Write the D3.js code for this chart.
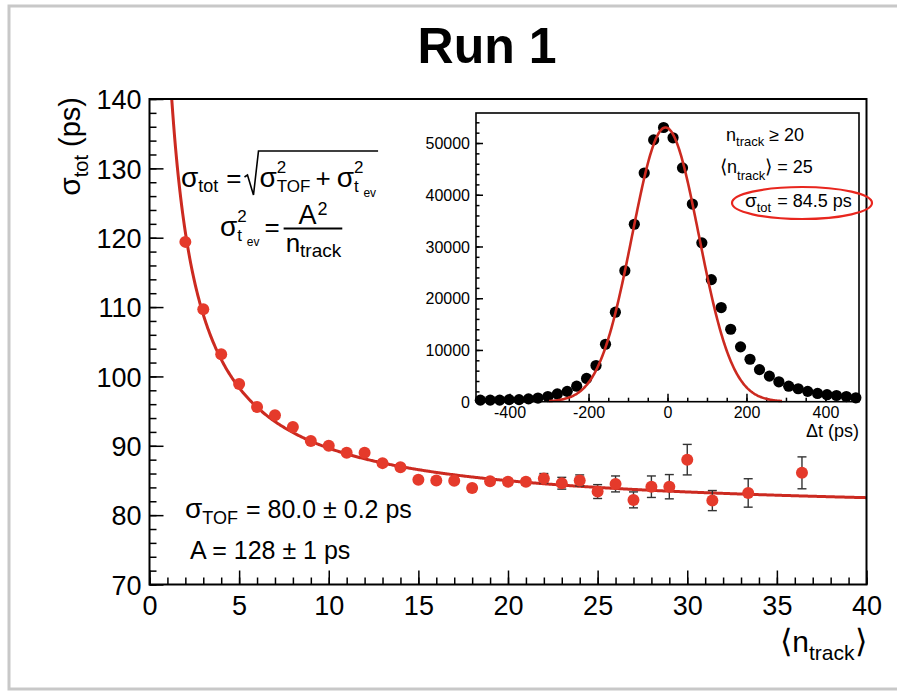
<!DOCTYPE html>
<html><head><meta charset="utf-8">
<script src="https://cdn.jsdelivr.net/npm/d3@7"></script>
<style>
html,body{margin:0;padding:0;background:#fff;}
svg{display:block;font-family:"Liberation Sans",Arial,Helvetica,sans-serif;}
text{fill:#000;white-space:pre;}
</style></head><body>
<script>
// ---- main panel: total time resolution vs mean track multiplicity ----
const nTrack = [2,3,4,5,6,7,8,9,10,11,12,13,14,15,16,17,18,19,20,21,22,23,24,25,26,27,28,29,30,31.4,33.4,36.4];
const sigmaTot = [119.4,109.7,103.2,98.9,95.6,94.4,92.7,90.7,90.0,89.0,89.0,87.5,86.9,85.1,85.0,84.95,83.9,84.9,84.8,84.8,85.3,84.6,85.0,83.4,84.5,82.2,84.1,84.1,88.0,82.1,83.2,86.1];
const sigmaErr = [0.2,0.2,0.2,0.2,0.2,0.2,0.2,0.25,0.25,0.3,0.3,0.3,0.3,0.35,0.35,0.4,0.4,0.4,0.45,0.45,0.7,0.85,0.8,1.0,1.15,1.15,1.55,1.75,2.2,1.45,2.05,2.3];
const fitSigmaTOF = 80.0;   // ps
const fitA = 128;           // ps
const xTicks = [0,5,10,15,20,25,30,35,40];
const yTicks = [70,80,90,100,110,120,130,140];

// ---- inset: event-time difference distribution ----
const dtBins = [-474,-449,-425,-401,-376,-352,-328,-303,-279,-254,-230,-205,-181,-157,-132,-108,-84,-59,-35,-10,14,38,63,87,111,136,160,185,209,233,258,282,307,331,355,380,404,428,453,477];
const dtCounts = [300,300,300,400,400,550,700,1000,1500,2000,3000,4500,7000,11100,17300,25300,34300,44200,50600,53000,51000,45200,38200,30700,23600,18200,14000,10600,8200,6200,4950,3850,3000,2500,2000,1600,1350,1200,1000,750];
const gausMean = -5, gausAmp = 53000, gausSigma = 84.5;
const gausRange = [-300, 290];
const insetXTicks = [-400,-200,0,200,400];
const insetYTicks = [0,10000,20000,30000,40000,50000];

const W = 897, H = 692;
const svg = d3.select('body').append('svg').attr('width', W).attr('height', H);

// page border
svg.append('rect').attr('x', 9).attr('y', 6).attr('width', W).attr('height', 683)
  .attr('fill', 'none').attr('stroke', '#c8c8c8').attr('stroke-width', 3);

// lays out a row of text pieces; pieces inside one group share an x position
function mathRow(parent, x0, y0, groups) {
  const g = parent.append('g');
  let cx = x0;
  const marks = {};
  groups.forEach(grp => {
    if (grp.mark) { marks[grp.mark] = cx; return; }
    let adv = 0;
    grp.p.forEach(p => {
      const t = g.append('text').attr('x', cx).attr('y', y0 + (p.dy || 0))
        .attr('font-size', p.fs).text(p.t);
      adv = Math.max(adv, t.node().getComputedTextLength());
    });
    cx += adv + (grp.gap || 0);
  });
  return {g, marks, end: cx};
}

// title
svg.append('text').attr('x', 487).attr('y', 63).attr('text-anchor', 'middle')
  .attr('font-size', 50).attr('font-weight', 'bold').text('Run 1');

// ---------------- main panel ----------------
const M = {l: 149.5, r: 866.5, t: 99, b: 584.5};
const x = d3.scaleLinear().domain([0, 40]).range([M.l, M.r]);
const y = d3.scaleLinear().domain([70, 140]).range([M.b, M.t]);

function styleAxis(g, fs) {
  g.attr('font-family', null).attr('font-size', fs);
  g.select('.domain').remove();
  g.selectAll('.tick line').attr('stroke', '#000').attr('stroke-width', 1.5);
  g.selectAll('.tick text').attr('fill', '#000');
}

const gxMinor = svg.append('g').attr('transform', `translate(0,${M.b})`)
  .call(d3.axisBottom(x).tickValues(x.ticks(40)).tickSize(-7).tickFormat(''));
styleAxis(gxMinor, 27);
const gx = svg.append('g').attr('transform', `translate(0,${M.b})`)
  .call(d3.axisBottom(x).tickValues(xTicks).tickSize(-14).tickPadding(11).tickFormat(d3.format('d')));
styleAxis(gx, 27);

const gyMinor = svg.append('g').attr('transform', `translate(${M.l},0)`)
  .call(d3.axisLeft(y).tickValues(y.ticks(35)).tickSize(-7).tickFormat(''));
styleAxis(gyMinor, 27);
const gy = svg.append('g').attr('transform', `translate(${M.l},0)`)
  .call(d3.axisLeft(y).tickValues(yTicks).tickSize(-14).tickPadding(8).tickFormat(d3.format('d')));
styleAxis(gy, 27);
gy.selectAll('.tick text').attr('dy', '0.36em');

// fit curve sigma_tot(n) = sqrt(sigma_TOF^2 + A^2/n)
svg.append('clipPath').attr('id', 'mainClip').append('rect')
  .attr('x', M.l).attr('y', M.t).attr('width', M.r - M.l).attr('height', M.b - M.t);
const nCurve = d3.range(1.0, 40.001, 0.05);
svg.append('path').attr('clip-path', 'url(#mainClip)')
  .datum(nCurve)
  .attr('fill', 'none').attr('stroke', '#cc2a20').attr('stroke-width', 3)
  .attr('d', d3.line().x(n => x(n)).y(n => y(Math.sqrt(fitSigmaTOF * fitSigmaTOF + fitA * fitA / n))));

// measured points with error bars
const pts = nTrack.map((n, i) => ({n, v: sigmaTot[i], e: sigmaErr[i]}));
const eb = svg.append('g').attr('stroke', '#333').attr('stroke-width', 1.4);
pts.forEach(d => {
  eb.append('line').attr('x1', x(d.n)).attr('x2', x(d.n)).attr('y1', y(d.v - d.e)).attr('y2', y(d.v + d.e));
  [d.v - d.e, d.v + d.e].forEach(v => eb.append('line')
    .attr('x1', x(d.n) - 4.5).attr('x2', x(d.n) + 4.5).attr('y1', y(v)).attr('y2', y(v)));
});
svg.append('g').selectAll('circle').data(pts).join('circle')
  .attr('cx', d => x(d.n)).attr('cy', d => y(d.v)).attr('r', 6).attr('fill', '#e53a2b');

// frame
svg.append('rect').attr('x', M.l).attr('y', M.t).attr('width', M.r - M.l).attr('height', M.b - M.t)
  .attr('fill', 'none').attr('stroke', '#000').attr('stroke-width', 2);

// axis titles
const yt = svg.append('text').attr('transform', 'translate(80,97) rotate(-90)').attr('text-anchor', 'end');
yt.append('tspan').attr('font-size', 30).text('σ');
yt.append('tspan').attr('font-size', 20).attr('dy', 8).text('tot');
yt.append('tspan').attr('font-size', 29).attr('dy', -8).text(' (ps)');

const xtRow = mathRow(svg, 0, 652, [
  {p: [{t: '⟨', fs: 32}]},
  {p: [{t: 'n', fs: 30}]},
  {p: [{t: 'track', fs: 21, dy: 8}]},
  {p: [{t: '⟩', fs: 32}]}
]);
xtRow.g.attr('transform', `translate(${M.r - xtRow.end},0)`);

// formulas
const f1 = mathRow(svg, 181, 187, [
  {p: [{t: 'σ', fs: 28}]},
  {p: [{t: 'tot', fs: 18, dy: 5}], gap: 8},
  {p: [{t: '=', fs: 26}], gap: 18},
  {mark: 'rs'},
  {p: [{t: 'σ', fs: 28}]},
  {p: [{t: '2', fs: 17, dy: -14}, {t: 'TOF', fs: 17, dy: 5}], gap: 5},
  {p: [{t: '+', fs: 26}], gap: 6},
  {p: [{t: 'σ', fs: 28}]},
  {p: [{t: '2', fs: 17, dy: -14}, {t: 't', fs: 17, dy: 5}]},
  {p: [{t: 'ev', fs: 12, dy: 10}]},
  {mark: 're'}
]);
{
  const xs = f1.marks.rs, xe = f1.marks.re, y0 = 187;
  svg.append('path').attr('fill', 'none').attr('stroke', '#000').attr('stroke-width', 1.6)
    .attr('d', `M${xs - 15},${y0 - 10}L${xs - 12},${y0 - 12}L${xs - 6},${y0 + 8}L${xs - 1},${y0 - 36}L${xe + 2},${y0 - 36}`);
}

const f2 = mathRow(svg, 220, 236, [
  {p: [{t: 'σ', fs: 28}]},
  {p: [{t: '2', fs: 17, dy: -14}, {t: 't', fs: 17, dy: 5}]},
  {p: [{t: 'ev', fs: 12, dy: 10}], gap: 5},
  {p: [{t: '=', fs: 26}], gap: 4},
  {mark: 'fs'}
]);
{
  const fx = f2.marks.fs;
  const den = mathRow(svg, fx + 2, 252, [
    {p: [{t: 'n', fs: 26}]},
    {p: [{t: 'track', fs: 19, dy: 5}]}
  ]);
  const barEnd = den.end + 1;
  svg.append('line').attr('x1', fx).attr('x2', barEnd).attr('y1', 228.5).attr('y2', 228.5)
    .attr('stroke', '#000').attr('stroke-width', 2);
  const num = mathRow(svg, 0, 224, [
    {p: [{t: 'A', fs: 27}], gap: 1},
    {p: [{t: '2', fs: 18, dy: -9}]}
  ]);
  num.g.attr('transform', `translate(${(fx + barEnd) / 2 - num.end / 2},0)`);
}

// fit results
mathRow(svg, 185, 518, [
  {p: [{t: 'σ', fs: 28}]},
  {p: [{t: 'TOF', fs: 18, dy: 6}], gap: 8},
  {p: [{t: '= 80.0 ± 0.2 ps', fs: 25}]}
]);
svg.append('text').attr('x', 190).attr('y', 559).attr('font-size', 25).text('A = 128 ± 1 ps');

// ---------------- inset ----------------
const I = {l: 476, r: 859, t: 113, b: 401.7};
const ix = d3.scaleLinear().domain([-485, 485]).range([I.l, I.r]);
const iy = d3.scaleLinear().domain([0, 55800]).range([I.b, I.t]);

svg.append('rect').attr('x', I.l).attr('y', I.t).attr('width', I.r - I.l).attr('height', I.b - I.t)
  .attr('fill', '#fff').attr('stroke', 'none');

const ixMinor = svg.append('g').attr('transform', `translate(0,${I.b})`)
  .call(d3.axisBottom(ix).tickValues(d3.range(-450, 451, 50)).tickSize(-4).tickFormat(''));
styleAxis(ixMinor, 16);
const ixMajor = svg.append('g').attr('transform', `translate(0,${I.b})`)
  .call(d3.axisBottom(ix).tickValues(insetXTicks).tickSize(-8).tickPadding(5).tickFormat(d3.format('d')));
styleAxis(ixMajor, 16);
ixMajor.selectAll('.tick text').text(d => d < 0 ? '-' + Math.abs(d) : d);

const iyMinor = svg.append('g').attr('transform', `translate(${I.l},0)`)
  .call(d3.axisLeft(iy).tickValues(d3.range(0, 55801, 2000)).tickSize(-3.5).tickFormat(''));
styleAxis(iyMinor, 16);
const iyMajor = svg.append('g').attr('transform', `translate(${I.l},0)`)
  .call(d3.axisLeft(iy).tickValues(insetYTicks).tickSize(-7).tickPadding(6).tickFormat(d3.format('d')));
styleAxis(iyMajor, 16);
iyMajor.selectAll('.tick text').attr('dy', '0.36em');

// histogram points
svg.append('g').selectAll('circle').data(dtBins.map((b, i) => ({b, c: dtCounts[i]}))).join('circle')
  .attr('cx', d => ix(d.b)).attr('cy', d => iy(d.c)).attr('r', 5.6).attr('fill', '#000');

// gaussian fit
const dtCurve = d3.range(gausRange[0], gausRange[1] + 0.01, 2);
svg.append('path').datum(dtCurve)
  .attr('fill', 'none').attr('stroke', '#cc2a20').attr('stroke-width', 2.6)
  .attr('d', d3.line().x(t => ix(t)).y(t => iy(gausAmp * Math.exp(-0.5 * Math.pow((t - gausMean) / gausSigma, 2)))));

svg.append('rect').attr('x', I.l).attr('y', I.t).attr('width', I.r - I.l).attr('height', I.b - I.t)
  .attr('fill', 'none').attr('stroke', '#000').attr('stroke-width', 1.6);

svg.append('text').attr('x', I.r).attr('y', 437).attr('text-anchor', 'end').attr('font-size', 18).text('Δt (ps)');

mathRow(svg, 726, 141, [
  {p: [{t: 'n', fs: 18}]},
  {p: [{t: 'track', fs: 13, dy: 5}], gap: 5},
  {p: [{t: '≥ 20', fs: 18}]}
]);
mathRow(svg, 720, 173, [
  {p: [{t: '⟨', fs: 19}]},
  {p: [{t: 'n', fs: 18}]},
  {p: [{t: 'track', fs: 13, dy: 7}]},
  {p: [{t: '⟩', fs: 19}], gap: 5},
  {p: [{t: '= 25', fs: 18}]}
]);
mathRow(svg, 745, 207, [
  {p: [{t: 'σ', fs: 19}]},
  {p: [{t: 'tot', fs: 13, dy: 5}], gap: 6},
  {p: [{t: '= 84.5 ps', fs: 18}]}
]);
svg.append('ellipse').attr('cx', 802).attr('cy', 203).attr('rx', 70).attr('ry', 16)
  .attr('fill', 'none').attr('stroke', '#e8261e').attr('stroke-width', 2.2);
</script>
</body></html>
